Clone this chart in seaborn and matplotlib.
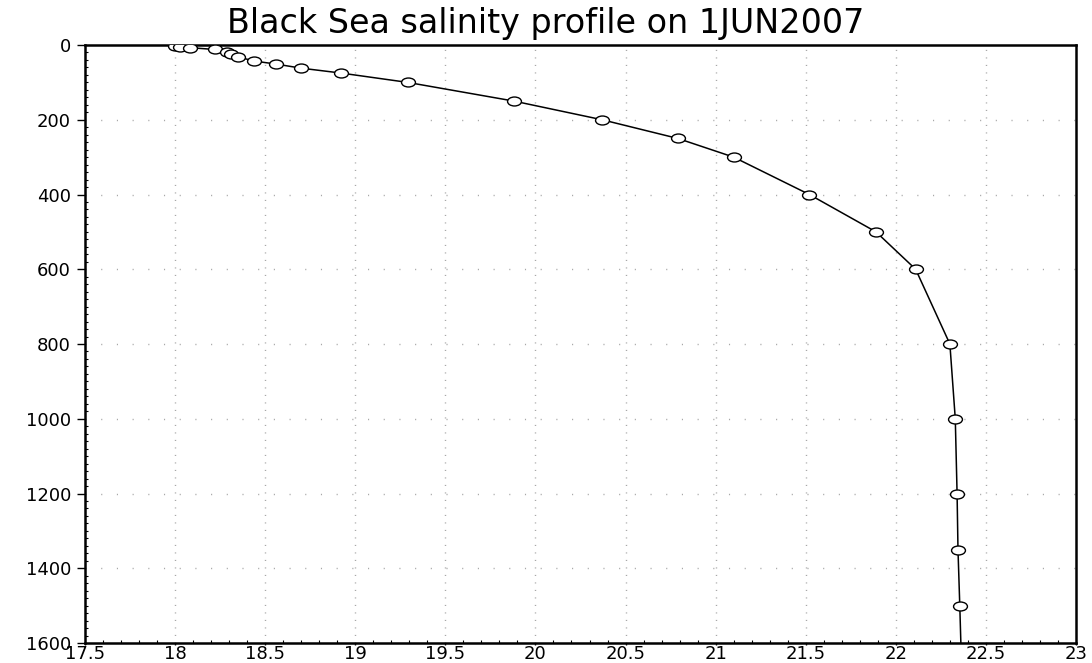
import matplotlib
matplotlib.use("Agg")
import matplotlib.pyplot as plt
from matplotlib.path import Path
from matplotlib.transforms import Affine2D
from matplotlib.ticker import MultipleLocator
import seaborn as sns
import pandas as pd

# Salinity (psu) against depth (m) at a single Black Sea station
depth = [2, 5, 7, 12, 18, 23, 32, 43, 51, 62, 75, 100, 150, 200, 250, 300,
         400, 500, 600, 800, 1000, 1200, 1350, 1500, 1750]
salinity = [18.00, 18.03, 18.08, 18.22, 18.29, 18.31, 18.35, 18.44, 18.56,
            18.70, 18.92, 19.29, 19.88, 20.37, 20.79, 21.10, 21.52, 21.89,
            22.11, 22.30, 22.33, 22.34, 22.345, 22.355, 22.37]

x_ticks = [17.5, 18, 18.5, 19, 19.5, 20, 20.5, 21, 21.5, 22, 22.5, 23]
y_ticks = [0, 200, 400, 600, 800, 1000, 1200, 1400, 1600]
title = "Black Sea salinity profile on 1JUN2007"

df = pd.DataFrame({"salinity": salinity, "depth": depth})

sns.set_style("ticks")
plt.rcParams["font.family"] = ["DejaVu Sans"]
plt.rcParams["lines.scale_dashes"] = False

fig = plt.figure(figsize=(10.92, 6.63), dpi=100)
ax = fig.add_axes([85 / 1092, 1 - 643 / 663, 991 / 1092, 598 / 663])

# flattened open ellipse used as the point marker
ellipse = Path.unit_circle().transformed(Affine2D().scale(1.55, 1.0))

sns.lineplot(data=df, x="salinity", y="depth", sort=False, orient="y",
             color="black", linewidth=1.1, marker=ellipse, markersize=10,
             markerfacecolor="white", markeredgecolor="black",
             markeredgewidth=1.0, ax=ax, zorder=3)

ax.set_xlim(17.5, 23)
ax.set_ylim(1600, 0)
ax.set_xticks(x_ticks)
ax.set_xticklabels([f"{v:g}" for v in x_ticks])
ax.set_yticks(y_ticks)
ax.set_yticklabels([str(v) for v in y_ticks])
ax.xaxis.set_minor_locator(MultipleLocator(0.1))
ax.yaxis.set_minor_locator(MultipleLocator(20))

ax.set_xlabel("")
ax.set_ylabel("")

# dotted grid at the major ticks
for xv in x_ticks[1:-1]:
    ax.axvline(xv, color="#a8a8a8", linewidth=1.0, linestyle=(0, (0.8, 4.6)),
               zorder=1)
for yv in y_ticks[1:-1]:
    ax.axhline(yv, color="#a8a8a8", linewidth=1.0, linestyle=(0, (0.8, 10.5)),
               zorder=1)

for side in ["left", "right", "top", "bottom"]:
    ax.spines[side].set_visible(True)
    ax.spines[side].set_linewidth(1.8)
    ax.spines[side].set_color("black")

ax.tick_params(axis="both", which="major", direction="out", length=6,
               width=1.0, colors="black", labelsize=13)
ax.tick_params(axis="x", which="major", length=1.5, pad=0)
ax.tick_params(axis="y", which="major", pad=4)
ax.tick_params(axis="both", which="minor", direction="in", length=2.5,
               width=0.8, colors="black")

fig.text(0.5 + 0.0, 1 - 23 / 663, title, ha="center", va="center",
         fontsize=24, color="black")

fig.savefig("out.png", dpi=100)
